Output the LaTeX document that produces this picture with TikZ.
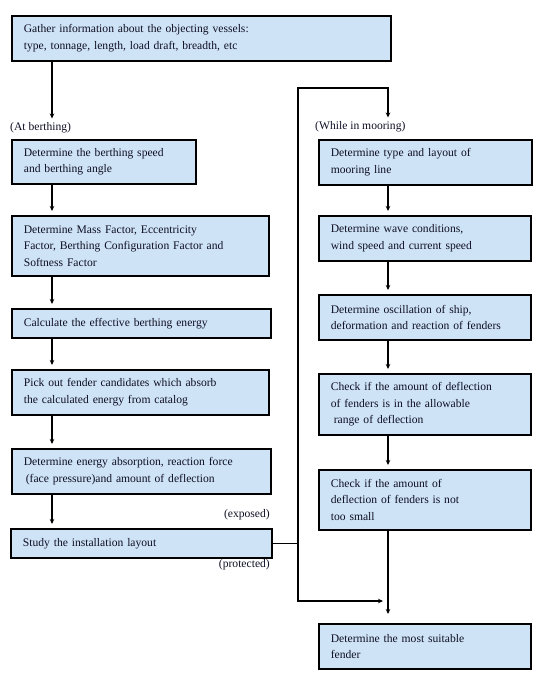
\documentclass[tikz,border=0pt]{standalone}
\usepackage{fontspec}
\setmainfont{Liberation Serif}
\usetikzlibrary{arrows.meta}
\definecolor{boxblue}{RGB}{207,227,246}
\definecolor{txt}{RGB}{15,15,35}
\begin{document}
\begin{tikzpicture}[x=1pt,y=-1pt,
  box/.style={draw=black, line width=1.7pt, fill=boxblue, anchor=north west,
    align=left, inner xsep=12pt, inner ysep=2pt, text=txt,
    font=\fontsize{11.6}{16.5}\selectfont},
  lbl/.style={inner sep=0pt, text=txt, font=\fontsize{11.6}{14}\selectfont},
  conn/.style={line width=1.3pt, draw=black},
  arr/.style={conn, -{Stealth[length=5pt,width=4.5pt]}}]
\useasboundingbox (0,0) rectangle (550,684);
% left column
\node[box, text width=355pt, minimum height=45pt] (top) at (11,15)
  {Gather information about the objecting vessels:\\type, tonnage, length, load draft, breadth, etc};
\node[lbl, anchor=west] (atb) at (10,128) {(At berthing)};
\node[box, text width=160pt, minimum height=44pt] (L1) at (11,139)
  {Determine the berthing speed\\and berthing angle};
\node[box, text width=233pt, minimum height=60pt] (L2) at (11,215)
  {Determine Mass Factor, Eccentricity\\Factor, Berthing Configuration Factor and\\Softness Factor};
\node[box, text width=235pt, minimum height=29pt] (L3) at (11,308)
  {Calculate the effective berthing energy};
\node[box, text width=233pt, minimum height=45pt] (L4) at (11,369)
  {Pick out fender candidates which absorb\\the calculated energy from catalog};
\node[box, text width=235pt, minimum height=45pt] (L5) at (11,448)
  {Determine energy absorption, reaction force\\\hspace*{2pt}(face pressure)and amount of deflection};
\node[box, text width=237pt, minimum height=29pt] (L6) at (10,528)
  {Study the installation layout};
\node[lbl, anchor=east] (exp) at (270,515) {(exposed)};
\node[lbl, anchor=east] (pro) at (270,565) {(protected)};
% right column
\node[lbl, anchor=west] (wim) at (315,127) {(While in mooring)};
\node[box, text width=189pt, minimum height=45pt] (R1) at (318,139)
  {Determine type and layout of\\mooring line};
\node[box, text width=188pt, minimum height=45pt] (R2) at (318,215)
  {Determine wave conditions,\\wind speed and current speed};
\node[box, text width=188pt, minimum height=45pt] (R3) at (318,294)
  {Determine oscillation of ship,\\deformation and reaction of fenders};
\node[box, text width=188pt, minimum height=61pt] (R4) at (318,373)
  {Check if the amount of deflection\\of fenders is in the allowable\\\hspace*{3pt}range of deflection};
\node[box, text width=188pt, minimum height=60pt] (R5) at (318,469)
  {Check if the amount of\\deflection of fenders is not\\too small};
\node[box, text width=188pt, minimum height=45pt] (R6) at (318,623)
  {Determine the most suitable\\fender};
% connector coordinates
\coordinate (lx) at (52,0);
\coordinate (rx) at (388,0);
\coordinate (ctop) at (298,88);
\coordinate (cbot) at (298,601);
\coordinate (cend) at (383,601);
% left arrows
\draw[arr, shorten >=4pt] (top.south -| lx) -- (atb.north -| lx);
\draw[arr, shorten >=4pt] (L1.south -| lx) -- (L2.north -| lx);
\draw[arr, shorten >=4pt] (L2.south -| lx) -- (L3.north -| lx);
\draw[arr, shorten >=4pt] (L3.south -| lx) -- (L4.north -| lx);
\draw[arr, shorten >=4pt] (L4.south -| lx) -- (L5.north -| lx);
\draw[arr, shorten >=4pt] (L5.south -| lx) -- (L6.north -| lx);
% loop connector
\draw[conn] (L6.east) -- (L6.east -| ctop);
\draw[arr, shorten >=4pt] (cbot) -- (ctop) -- (ctop -| rx) -- (wim.north -| rx);
\draw[arr] (ctop) -- (cbot) -- (cend);
% right arrows
\draw[arr, shorten >=4pt] (R1.south -| rx) -- (R2.north -| rx);
\draw[arr, shorten >=4pt] (R2.south -| rx) -- (R3.north -| rx);
\draw[arr, shorten >=4pt] (R3.south -| rx) -- (R4.north -| rx);
\draw[arr, shorten >=4pt] (R4.south -| rx) -- (R5.north -| rx);
\draw[arr, shorten >=9pt] (R5.south -| rx) -- (R6.north -| rx);
\end{tikzpicture}
\end{document}
